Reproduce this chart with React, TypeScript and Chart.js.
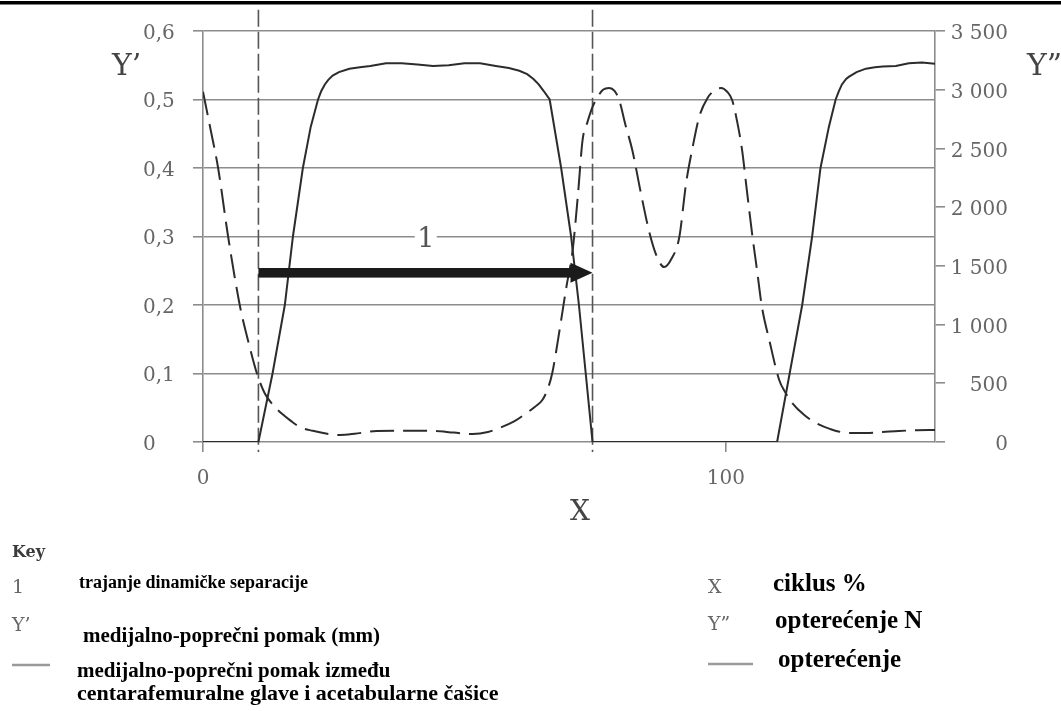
import React, { useEffect, useRef } from "react";
import { Chart, registerables } from "chart.js";

Chart.register(...registerables);

// ---- data ----
const solidX = [0, 10.6, 13.3, 15.65, 17.2, 19.1, 20.6, 22, 22.6, 23.3, 24, 24.8, 26, 28, 30, 32, 35, 38, 41, 44, 47, 50, 53, 56, 58.5, 60.5, 62, 63.2, 64.2, 65.2, 66.3, 68.5, 70.4, 71.9, 73.2, 74.5, 109.8, 112.2, 114.6, 116.5, 118.1, 119.7, 121, 121.6, 122.2, 123, 123.5, 125, 126.8, 128.5, 130, 132.5, 135, 137.5, 140];
const solidY = [0, 0, 0.1, 0.2, 0.3, 0.4, 0.46, 0.5, 0.512, 0.522, 0.529, 0.535, 0.54, 0.545, 0.547, 0.549, 0.553, 0.553, 0.551, 0.549, 0.55, 0.553, 0.553, 0.549, 0.546, 0.542, 0.537, 0.53, 0.522, 0.512, 0.5, 0.4, 0.3, 0.2, 0.1, 0, 0, 0.1, 0.2, 0.3, 0.4, 0.46, 0.5, 0.512, 0.522, 0.53, 0.533, 0.54, 0.545, 0.547, 0.548, 0.549, 0.553, 0.554, 0.552];

const loadX = [0, 1.5, 2.9, 4.8, 7.1, 8.7, 10.3, 11.8, 13.3, 15, 16.8, 18.5, 21, 23.5, 26.2, 29, 33.2, 38, 44, 48, 51.6, 54.5, 56.7, 59.5, 61.9, 63.5, 64.9, 66, 66.8, 67.5, 68.2, 69.5, 70.7, 71.7, 72.6, 73.5, 74.5, 75.5, 76.5, 77.7, 78.7, 79.6, 80.8, 82.1, 83.7, 85.4, 86.8, 88.2, 89.6, 91.1, 92.4, 93.6, 94.9, 96.5, 98, 99.1, 100.2, 101.2, 102.2, 103.1, 104, 105, 106, 106.9, 108.3, 110.2, 111.4, 112.7, 115, 117.2, 120, 123.5, 126.8, 130, 133.1, 136.5, 140];
const loadY = [2983, 2650, 2331, 1750, 1150, 850, 585, 415, 320, 244, 180, 128, 95, 72, 60, 70, 94, 96, 94, 80, 68, 85, 119, 175, 247, 300, 358, 460, 588, 760, 954, 1320, 1635, 2100, 2572, 2720, 2853, 2940, 3000, 3015, 2990, 2912, 2700, 2487, 2130, 1780, 1580, 1490, 1560, 1746, 2206, 2500, 2768, 2930, 3000, 3015, 2985, 2912, 2720, 2487, 2150, 1780, 1450, 1150, 869, 528, 420, 332, 230, 162, 110, 77, 77, 85, 94, 100, 102];

const markerX = [10.6, 74.5];
const markerTop = 0.631;
const markerBottom = -0.0146;

const arrowStartX = 10.6;
const arrowEndX = 74.5;
const arrowY = 0.247;
const label1X = 42.6;
const label1Y = 0.3;
const label1Text = "1";

const xTickValues = [0, 100];
const xTickLabels = ["0", "100"];
const leftTickValues = [0, 0.1, 0.2, 0.3, 0.4, 0.5, 0.6];
const leftTickLabels = ["0", "0,1", "0,2", "0,3", "0,4", "0,5", "0,6"];
const rightTickValues = [0, 500, 1000, 1500, 2000, 2500, 3000, 3500];
const rightTickLabels = ["0", "500", "1 000", "1 500", "2 000", "2 500", "3 000", "3 500"];

const yLeftTitle = "Y\u2019";
const yRightTitle = "Y\u201D";
const xTitle = "X";

const keyTitle = "Key";
const keyItemsLeft = [
  { sym: "1", text: "trajanje dinamičke separacije" },
  { sym: "Y\u2019", text: "medijalno-poprečni pomak (mm)" },
  { sym: "line", text: ["medijalno-poprečni pomak između", "centarafemuralne glave i acetabularne čašice"] },
];
const keyItemsRight = [
  { sym: "X", text: "ciklus %" },
  { sym: "Y\u201D", text: "opterećenje N" },
  { sym: "line", text: "opterećenje" },
];

const W = 1061;
const H = 711;
const GRID = "#8c8c8c";
const TICK = "#666666";
const CURVE = "#2c2c2c";
const SERIF = '"DejaVu Serif", serif';
const BOLD = '"Liberation Serif", "Times New Roman", serif';

const decor = {
  id: "decor",
  beforeDraw(chart: any) {
    const ctx = chart.ctx;
    ctx.save();
    ctx.fillStyle = "#ffffff";
    ctx.fillRect(0, 0, W, H);
    ctx.fillStyle = "#000000";
    ctx.fillRect(0, 1, W, 3.5);
    ctx.restore();
  },
  afterDatasetsDraw(chart: any) {
    const ctx = chart.ctx;
    const xs = chart.scales.x;
    const ys = chart.scales.y;
    // arrow
    const x0 = xs.getPixelForValue(arrowStartX);
    const x1 = xs.getPixelForValue(arrowEndX);
    const y = ys.getPixelForValue(arrowY);
    ctx.save();
    ctx.fillStyle = "#1b1b1b";
    ctx.fillRect(x0, y - 4.8, x1 - 21 - x0, 9.6);
    ctx.beginPath();
    ctx.moveTo(x1 - 22, y - 10);
    ctx.lineTo(x1, y);
    ctx.lineTo(x1 - 22, y + 10);
    ctx.closePath();
    ctx.fill();
    // label "1"
    const lx = xs.getPixelForValue(label1X);
    const ly = ys.getPixelForValue(label1Y);
    ctx.fillStyle = "#ffffff";
    ctx.fillRect(lx - 11, ly - 5, 22, 10);
    ctx.fillStyle = "#555555";
    ctx.font = `27px ${SERIF}`;
    ctx.textAlign = "center";
    ctx.textBaseline = "alphabetic";
    ctx.fillText(label1Text, lx, ly + 10);
    ctx.restore();
  },
  afterDraw(chart: any) {
    const ctx = chart.ctx;
    ctx.save();
    ctx.textBaseline = "alphabetic";
    ctx.textAlign = "left";
    // axis titles
    ctx.fillStyle = "#444444";
    ctx.font = `30px ${SERIF}`;
    ctx.fillText(yLeftTitle, 112, 75);
    ctx.fillText(yRightTitle, 1027, 75);
    ctx.textAlign = "center";
    ctx.font = `28px ${SERIF}`;
    ctx.fillText(xTitle, 580, 520);

    // key
    ctx.textAlign = "left";
    ctx.fillStyle = "#3a3a3a";
    ctx.font = `bold 16px ${SERIF}`;
    ctx.fillText(keyTitle, 12, 557);

    ctx.fillStyle = "#666666";
    ctx.font = `19px ${SERIF}`;
    ctx.fillText(keyItemsLeft[0].sym, 12, 593);
    ctx.fillText(keyItemsLeft[1].sym, 12, 631);
    ctx.fillText(keyItemsRight[0].sym, 708, 593);
    ctx.fillText(keyItemsRight[1].sym, 708, 630);

    ctx.strokeStyle = "#9a9a9a";
    ctx.lineWidth = 2.5;
    ctx.beginPath();
    ctx.moveTo(12, 665);
    ctx.lineTo(50, 665);
    ctx.moveTo(708, 664);
    ctx.lineTo(753, 664);
    ctx.stroke();

    ctx.fillStyle = "#000000";
    ctx.font = `bold 18px ${BOLD}`;
    ctx.fillText(keyItemsLeft[0].text as string, 79, 588);
    ctx.font = `bold 21px ${BOLD}`;
    ctx.fillText(keyItemsLeft[1].text as string, 83, 642);
    const two = keyItemsLeft[2].text as string[];
    ctx.fillText(two[0], 77, 677);
    ctx.font = `bold 22px ${BOLD}`;
    ctx.fillText(two[1], 77, 700);

    ctx.font = `bold 25px ${BOLD}`;
    ctx.fillText(keyItemsRight[0].text as string, 773, 591);
    ctx.fillText(keyItemsRight[1].text as string, 775, 628);
    ctx.fillText(keyItemsRight[2].text as string, 778, 667);
    ctx.restore();
  },
};

export default function App() {
  const ref = useRef<HTMLCanvasElement | null>(null);

  useEffect(() => {
    if (!ref.current) return;
    const datasets: any[] = [
      {
        label: "pomak",
        data: solidX.map((x, i) => ({ x, y: solidY[i] })),
        yAxisID: "y",
        borderColor: CURVE,
        borderWidth: 2,
        pointRadius: 0,
        tension: 0,
        fill: false,
      },
      {
        label: "opterećenje",
        data: loadX.map((x, i) => ({ x, y: loadY[i] })),
        yAxisID: "y2",
        borderColor: CURVE,
        borderWidth: 2,
        borderDash: [24, 9],
        pointRadius: 0,
        cubicInterpolationMode: "monotone",
        fill: false,
      },
      ...markerX.map((mx) => ({
        label: "marker",
        data: [
          { x: mx, y: markerTop },
          { x: mx, y: markerBottom },
        ],
        yAxisID: "y",
        borderColor: "#555555",
        borderWidth: 1.6,
        borderDash: [17, 5],
        pointRadius: 0,
        clip: false,
        fill: false,
      })),
    ];

    const tickFont = { family: SERIF, size: 20 };
    const chart = new Chart(ref.current, {
      type: "line",
      data: { datasets },
      options: {
        responsive: false,
        animation: false,
        events: [],
        layout: { padding: { left: 143, right: 53, top: 31, bottom: 0 } },
        plugins: { legend: { display: false }, tooltip: { enabled: false } },
        scales: {
          x: {
            type: "linear",
            position: "bottom",
            min: 0,
            max: 140,
            afterBuildTicks: (s: any) => {
              s.ticks = xTickValues.map((v) => ({ value: v }));
            },
            afterFit: (s: any) => {
              s.height = H - 442;
            },
            grid: { drawOnChartArea: false, drawTicks: true, tickLength: 10, color: GRID, lineWidth: 1.6 },
            border: { display: false },
            ticks: {
              callback: (_v: any, i: number) => xTickLabels[i],
              font: tickFont,
              color: TICK,
              padding: 15,
              maxRotation: 0,
              autoSkip: false,
            },
          },
          y: {
            type: "linear",
            position: "left",
            min: 0,
            max: 0.6,
            afterBuildTicks: (s: any) => {
              s.ticks = leftTickValues.map((v) => ({ value: v }));
            },
            afterFit: (s: any) => {
              s.width = 60;
            },
            grid: { color: GRID, lineWidth: 1.6, tickLength: 10, drawTicks: true },
            border: { display: true, color: GRID, width: 1.6 },
            ticks: {
              callback: (_v: any, i: number) => leftTickLabels[i],
              crossAlign: "far",
              font: tickFont,
              color: TICK,
              labelOffset: 2.5,
            },
          },
          y2: {
            type: "linear",
            position: "right",
            min: 0,
            max: 3500,
            afterBuildTicks: (s: any) => {
              s.ticks = rightTickValues.map((v) => ({ value: v }));
            },
            afterFit: (s: any) => {
              s.width = 73;
            },
            grid: { drawOnChartArea: false, color: GRID, lineWidth: 1.6, tickLength: 10, drawTicks: true },
            border: { display: true, color: GRID, width: 1.6 },
            ticks: {
              callback: (_v: any, i: number) => rightTickLabels[i],
              crossAlign: "far",
              font: tickFont,
              color: TICK,
              labelOffset: 3,
            },
          },
        },
      } as any,
      plugins: [decor],
    });
    return () => chart.destroy();
  }, []);

  return (
    <div style={{ position: "absolute", left: 0, top: 0, width: W, height: H, background: "#fff" }}>
      <canvas ref={ref} width={W} height={H} style={{ display: "block", width: W, height: H }} />
    </div>
  );
}
